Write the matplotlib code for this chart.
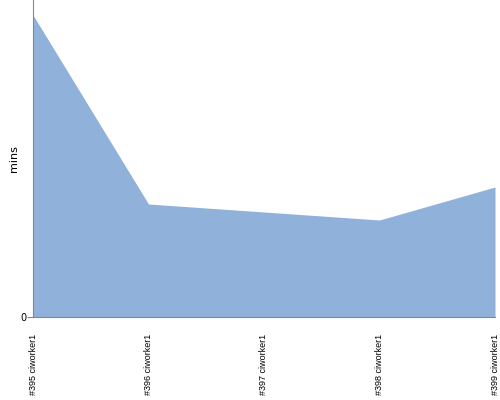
import matplotlib.pyplot as plt

builds = ["#395 ciworker1", "#396 ciworker1", "#397 ciworker1",
          "#398 ciworker1", "#399 ciworker1"]
mins = [30.2, 11.3, 10.5, 9.7, 13.0]

fig = plt.figure(figsize=(5, 4), dpi=100)
ax = fig.add_axes([0.066, 0.2075, 0.924, 0.7925])

x = range(len(builds))
ax.fill_between(x, mins, 0, color="#8fb1da", linewidth=0)

ax.set_xlim(0, len(builds) - 1)
ax.set_ylim(0, 31.7)
ax.set_yticks([0])
ax.set_yticklabels(["0"], fontsize=7)
ax.set_xticks(list(x))
ax.set_xticklabels(builds, rotation=90, fontsize=6.5, family="Liberation Sans")
ax.tick_params(axis="x", length=0, pad=12)
ax.tick_params(axis="y", length=4, color="#888888", pad=1)
ax.set_ylabel("mins", fontsize=8, labelpad=1)

for side in ["top", "right"]:
    ax.spines[side].set_visible(False)
for side in ["left", "bottom"]:
    ax.spines[side].set_color("#888888")
    ax.spines[side].set_linewidth(0.8)

fig.savefig("out.png")
